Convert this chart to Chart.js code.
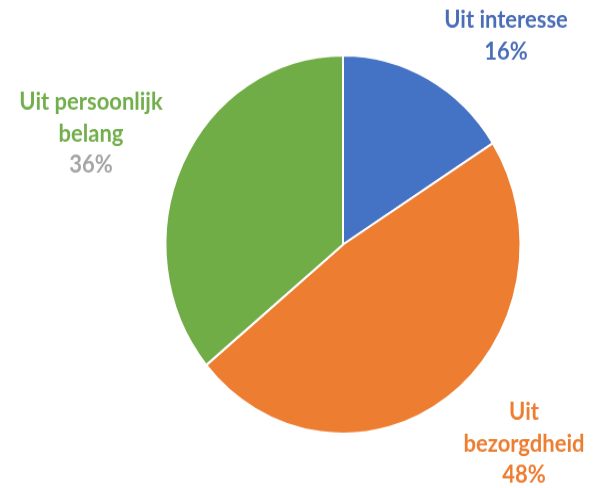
<!DOCTYPE html>
<html><head><meta charset="utf-8">
<script src="https://cdn.jsdelivr.net/npm/chart.js@4"></script>
<style>
html,body{margin:0;padding:0;background:#fff;overflow:hidden;width:593px;height:488px}
#wrap{position:absolute;left:0;top:0;width:593px;height:488px;transform:scaleY(1.0655);transform-origin:0 0}
canvas{display:block}
</style></head><body>
<div id="wrap"><canvas id="c" width="593" height="488"></canvas></div>
<script>
const categories = ['Uit interesse', 'Uit bezorgdheid', 'Uit persoonlijk belang'];
const values = [16, 48, 36];
const sliceColors = ['#4472C4', '#ED7D31', '#70AD47'];
const nameLines = [['Uit interesse'], ['Uit', 'bezorgdheid'], ['Uit persoonlijk', 'belang']];
const nameColors = ['#4A6DB8', '#ED7D31', '#72AE4B'];
const valueColors = ['#4A6DB8', '#ED7D31', '#A5A5A5'];

// label anchor (center x, first baseline y) in canvas coords
const labelAnchors = [{x: 506, y: 26}, {x: 524, y: 394}, {x: 91, y: 103}];
const lineGap = 29.5;

const labelPlugin = {
  id: 'excelLabels',
  afterDraw(chart) {
    const ctx = chart.ctx;
    const data = chart.data.datasets[0].data;
    const total = data.reduce((a, b) => a + b, 0);
    ctx.save();
    ctx.font = 'bold 22px Lato, "Open Sans", sans-serif';
    ctx.textAlign = 'center';
    ctx.textBaseline = 'alphabetic';
    data.forEach((v, i) => {
      const a = labelAnchors[i];
      const lines = nameLines[i];
      lines.forEach((t, k) => {
        ctx.fillStyle = nameColors[i];
        ctx.fillText(t, a.x, a.y + k * lineGap);
      });
      ctx.fillStyle = valueColors[i];
      ctx.fillText(Math.round(v / total * 100) + '%', a.x, a.y + lines.length * lineGap);
    });
    ctx.restore();
  }
};

new Chart(document.getElementById('c'), {
  type: 'pie',
  data: {
    labels: categories,
    datasets: [{
      data: values,
      backgroundColor: sliceColors,
      borderColor: '#ffffff',
      borderWidth: 2,
      hoverOffset: 0
    }]
  },
  options: {
    responsive: false,
    animation: false,
    layout: {padding: {left: 100, right: 7, top: 51, bottom: 80}},
    plugins: {legend: {display: false}, tooltip: {enabled: false}}
  },
  plugins: [labelPlugin]
});
</script>
</body></html>
